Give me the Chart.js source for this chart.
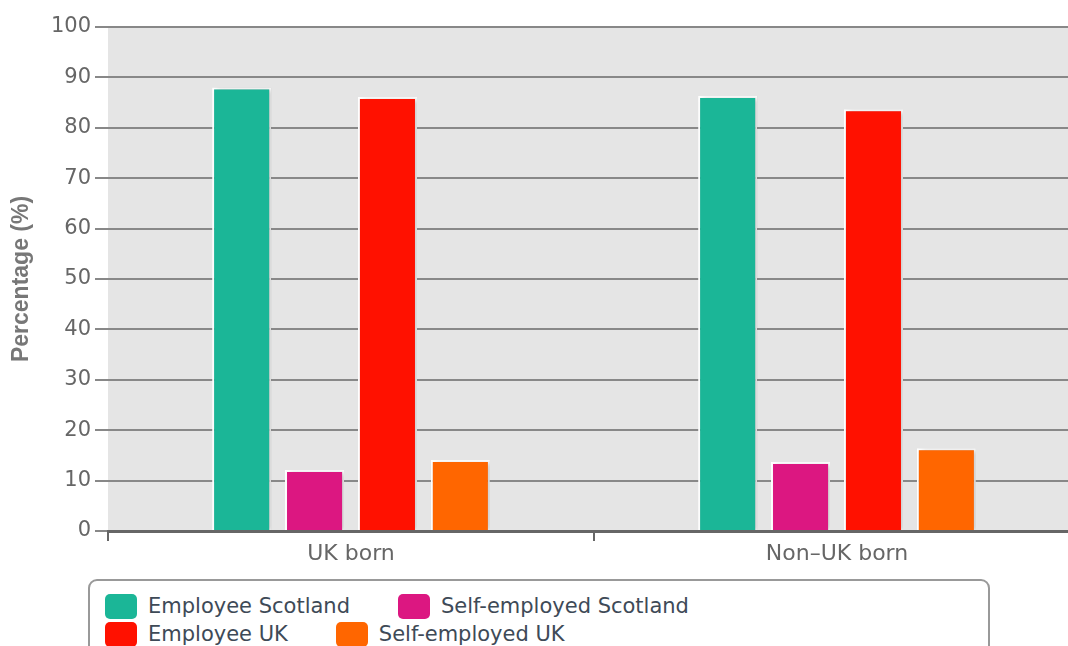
<!DOCTYPE html>
<html>
<head>
<meta charset="utf-8">
<script src="https://cdn.jsdelivr.net/npm/chart.js@4.4.1/dist/chart.umd.min.js"></script>
<style>
  html, body { margin: 0; padding: 0; background: #fff; overflow: hidden; width: 1068px; height: 646px; }
  #wrap { position: absolute; left: 0; top: 0; width: 1080px; height: 576px; }
  #legend {
    position: absolute; left: 88px; top: 579px; width: 902px; height: 90px;
    border: 2px solid #999; border-radius: 9px; box-sizing: border-box;
    padding: 11px 0 0 15px;
    font-family: 'DejaVu Sans', sans-serif; font-size: 21px; color: #3e4a57;
  }
  .row { display: flex; height: 28px; align-items: center; }
  .item { display: flex; align-items: center; margin-right: 48px; }
  .box { width: 32px; height: 25px; border-radius: 5px; margin-right: 11px; }
</style>
</head>
<body>
<div id="wrap"><canvas id="grafico"></canvas></div>
<div id="legend"></div>
<script>
// dados
const categorias = ['UK born', 'Non\u2013UK born']
const empregadoEscocia = [88.0, 86.3]
const autonomoEscocia = [12.1, 13.7]
const empregadoUK = [86.1, 83.7]
const autonomoUK = [14.1, 16.4]
const ticksY = [0, 10, 20, 30, 40, 50, 60, 70, 80, 90, 100]

const series = [
  { label: 'Employee Scotland', data: empregadoEscocia, cor: '#1bb697' },
  { label: 'Self-employed Scotland', data: autonomoEscocia, cor: '#dc1781' },
  { label: 'Employee UK', data: empregadoUK, cor: '#ff1100' },
  { label: 'Self-employed UK', data: autonomoUK, cor: '#ff6600' }
]

// fundo cinza da área do gráfico
const fundo = {
  id: 'fundo',
  beforeDraw(chart) {
    const { ctx, chartArea: a } = chart
    ctx.save()
    ctx.fillStyle = '#e5e5e5'
    ctx.fillRect(a.left, a.top, a.right - a.left, a.bottom - a.top)
    ctx.restore()
  }
}

// sombra nas barras
const sombra = {
  id: 'sombra',
  beforeDatasetsDraw(chart) {
    const ctx = chart.ctx
    ctx.save()
    ctx.shadowColor = 'rgba(0,0,0,0.22)'
    ctx.shadowBlur = 5
    ctx.shadowOffsetX = 3
    ctx.shadowOffsetY = 1
  },
  afterDatasetsDraw(chart) {
    chart.ctx.restore()
  }
}

const config = {
  type: 'bar',
  data: {
    labels: categorias,
    datasets: series.map(s => ({
      label: s.label,
      data: s.data,
      backgroundColor: s.cor,
      borderColor: '#ffffff',
      borderWidth: 2,
      categoryPercentage: 0.6,
      barPercentage: 0.81
    }))
  },
  options: {
    responsive: true,
    maintainAspectRatio: false,
    animation: false,
    layout: { padding: { top: 27, right: 0, left: 0, bottom: 0 } },
    plugins: {
      legend: { display: false },
      tooltip: { enabled: false }
    },
    scales: {
      x: {
        grid: { drawOnChartArea: false, offset: true, tickLength: 10, color: '#666', lineWidth: 2 },
        border: { color: '#666', width: 3 },
        ticks: { color: '#666', font: { family: 'DejaVu Sans', size: 22 }, padding: 0 },
        afterFit(axis) { axis.height = 45 }
      },
      y: {
        min: 0,
        max: 100,
        afterBuildTicks(axis) { axis.ticks = ticksY.map(v => ({ value: v })) },
        grid: { color: '#888', lineWidth: 2, tickLength: 13 },
        border: { display: false },
        ticks: { color: '#666', font: { family: 'DejaVu Sans', size: 21 }, padding: 4 },
        title: {
          display: true,
          text: 'Percentage (%)',
          color: '#777',
          font: { family: 'Liberation Sans', size: 23, weight: 'bold' },
          padding: { top: 8, bottom: 0 }
        },
        afterFit(axis) { axis.width = 108 }
      }
    }
  },
  plugins: [fundo, sombra]
}

const grafico = new Chart(document.getElementById('grafico'), config)

// legenda em HTML, duas linhas como no original
const legenda = document.getElementById('legend')
const linhas = [[0, 1], [2, 3]]
linhas.forEach(l => {
  const row = document.createElement('div')
  row.className = 'row'
  l.forEach(i => {
    const it = document.createElement('div')
    it.className = 'item'
    it.innerHTML = '<div class="box" style="background:' + series[i].cor + '"></div><span>' + series[i].label + '</span>'
    row.appendChild(it)
  })
  legenda.appendChild(row)
})
</script>
</body>
</html>
